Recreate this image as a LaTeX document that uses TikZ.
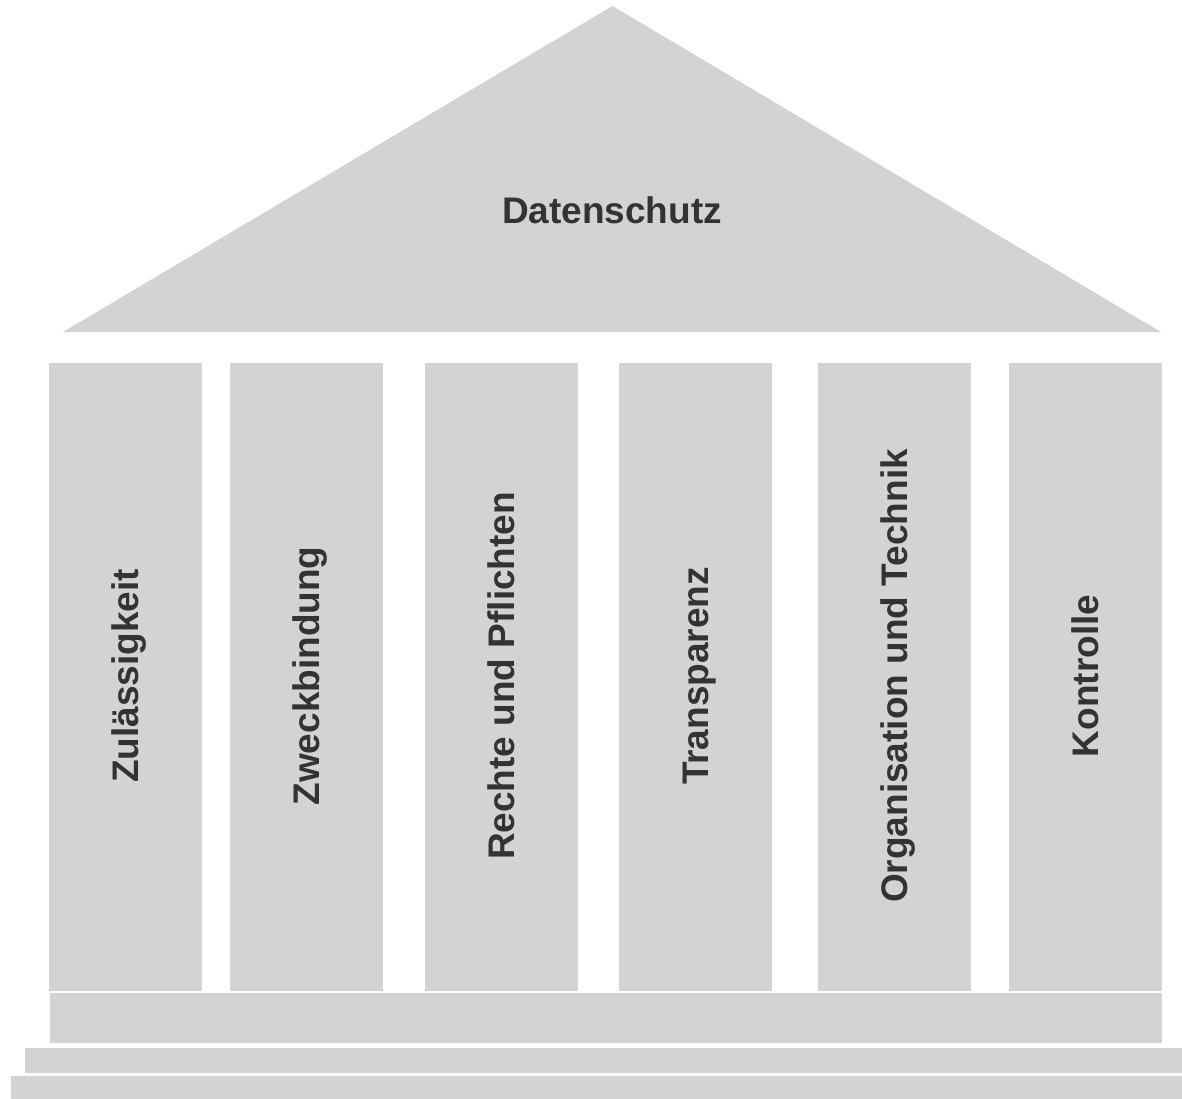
\documentclass[tikz,border=0pt]{standalone}
\usepackage{fontspec}
\setmainfont{Liberation Sans}
\definecolor{part}{HTML}{D3D3D3}
\definecolor{label}{HTML}{333333}
\begin{document}
\begin{tikzpicture}[x=1pt,y=-1pt,
  block/.style={fill=part,draw=none},
  lbl/.style={text=label,inner sep=0pt,font=\fontsize{37}{44}\selectfont\bfseries},
  pillarlbl/.style={lbl,rotate=90,anchor=base}]
\useasboundingbox (0,0) rectangle (1182,1099);
% roof
\fill[block] (63,332) -- (612.5,6) -- (1161,332) -- cycle;
\node[lbl] (roof) at (612,210) {Datenschutz};
% pillars
\fill[block] (49,363) rectangle (202,991);
\fill[block] (230,363) rectangle (383,991);
\fill[block] (425,363) rectangle (578,991);
\fill[block] (619,363) rectangle (772,991);
\fill[block] (818,363) rectangle (971,991);
\fill[block] (1009,363) rectangle (1162,991);
\node[pillarlbl] (p1) at (125.5+13,676) {Zulässigkeit};
\node[pillarlbl] (p2) at (306.5+13,676) {Zweckbindung};
\node[pillarlbl] (p3) at (501.5+13,676) {Rechte und Pflichten};
\node[pillarlbl] (p4) at (695.5+13,676) {Transparenz};
\node[pillarlbl] (p5) at (894.5+13,676) {Organisation und Technik};
\node[pillarlbl] (p6) at (1085.5+13,676) {Kontrolle};
% base and steps
\fill[block] (50,993) rectangle (1162,1043);
\fill[block] (25,1048) rectangle (1182,1073);
\fill[block] (11,1076) rectangle (1182,1099);
\end{tikzpicture}
\end{document}
